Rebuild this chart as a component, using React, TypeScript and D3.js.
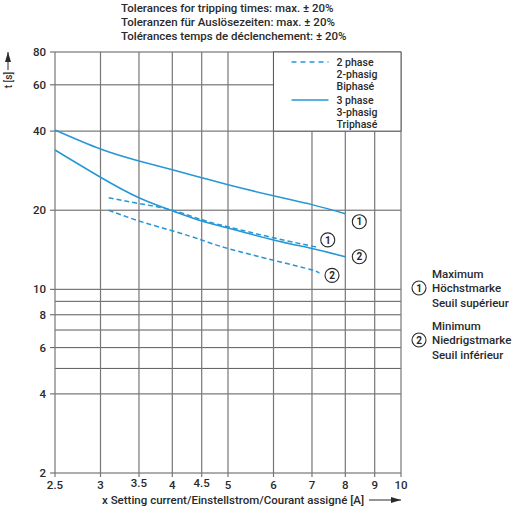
import { useEffect, useRef } from "react"
import * as d3 from "d3"

// x axis: setting current [A], y axis: tripping time t [s]
const currentGrid = [2.5, 3, 3.5, 4, 4.5, 5, 6, 7, 8, 9, 10]
const raisedTicks = [3.5, 4.5]
const timeGrid = [2, 4, 5, 6, 7, 8, 9, 10, 20, 40, 60, 80]
const timeLabels = [2, 4, 6, 8, 10, 20, 40, 60, 80]

// curves
const threePhaseMaxI = [2.5, 3, 3.5, 4, 4.5, 5, 6, 7, 8]
const threePhaseMaxT = [40.4, 34.2, 30.8, 28.5, 26.6, 25.0, 22.7, 21.0, 19.4]
const threePhaseMinI = [2.5, 3, 3.5, 4, 4.5, 5, 6, 7, 8]
const threePhaseMinT = [33.9, 26.7, 22.3, 19.9, 18.2, 17.1, 15.4, 14.3, 13.3]
const twoPhaseMaxI = [3.1, 3.5, 4, 4.5, 5, 6, 7, 7.05]
const twoPhaseMaxT = [22.3, 21.2, 20.0, 18.4, 17.3, 15.7, 14.6, 14.5]
const twoPhaseMinI = [3.1, 3.5, 4, 4.5, 5, 6, 7, 7.2]
const twoPhaseMinT = [20.0, 18.2, 16.7, 15.4, 14.3, 12.9, 11.85, 11.5]

const titleLines = [
  "Tolerances for tripping times: max. ± 20%",
  "Toleranzen für Auslösezeiten: max. ± 20%",
  "Tolérances temps de déclenchement: ± 20%",
]
const legendDashed = ["2 phase", "2-phasig", "Biphasé"]
const legendSolid = ["3 phase", "3-phasig", "Triphasé"]
const maxNote = ["Maximum", "Höchstmarke", "Seuil supérieur"]
const minNote = ["Minimum", "Niedrigstmarke", "Seuil inférieur"]
const xTitle = "x Setting current/Einstellstrom/Courant assigné [A]"
const yTitle = "t [s]"

const FONT = "Roboto, 'Liberation Sans', sans-serif"
const FS = 11.5
const FW = 500
const BLUE = "#2597d6"
const GRID = "#5a5a5a"
const VGRID = "#777"
const INK = "#2a2a2a"

export default function App() {
  const ref = useRef<SVGSVGElement>(null)

  useEffect(() => {
    const svg = d3.select(ref.current)
    svg.selectAll("*").remove()

    const x = d3.scaleLog().domain([2.5, 10]).range([55, 401])
    const y = d3.scaleLog().domain([2, 80]).range([473, 52])
    const g = svg.append("g")

    const label = (sel: d3.Selection<any, any, any, any>) =>
      sel.attr("font-size", FS).attr("font-family", FONT).attr("font-weight", FW).attr("fill", INK)

    // grid
    g.selectAll(".h").data(timeGrid).join("line")
      .attr("x1", d => timeLabels.includes(d) ? x(2.5) - 5 : x(2.5))
      .attr("x2", x(10))
      .attr("y1", d => y(d)).attr("y2", d => y(d))
      .attr("stroke", GRID).attr("stroke-width", 1)
    g.selectAll(".v").data(currentGrid).join("line")
      .attr("x1", d => x(d)).attr("x2", d => x(d))
      .attr("y1", y(80)).attr("y2", y(2) + 4)
      .attr("stroke", VGRID).attr("stroke-width", 1.2)

    // legend box covers the grid in the upper right
    g.append("rect")
      .attr("x", x(6)).attr("y", y(80))
      .attr("width", x(10) - x(6)).attr("height", y(40) - y(80))
      .attr("fill", "#fff").attr("stroke", GRID).attr("stroke-width", 1)

    // tick labels
    g.selectAll(".yl").data(timeLabels).join("text")
      .attr("x", 46).attr("y", d => y(d)).attr("dy", "0.35em")
      .attr("text-anchor", "end").call(label).text(d => d)
    g.selectAll(".xl").data(currentGrid).join("text")
      .attr("x", d => x(d)).attr("y", d => raisedTicks.includes(d) ? 487 : 489)
      .attr("text-anchor", "middle").call(label).text(d => d)

    // curves
    const line = d3.line<[number, number]>()
      .x(d => x(d[0])).y(d => y(d[1]))
      .curve(d3.curveNatural)
    const series = [
      { i: threePhaseMaxI, t: threePhaseMaxT, dash: null },
      { i: threePhaseMinI, t: threePhaseMinT, dash: null },
      { i: twoPhaseMaxI, t: twoPhaseMaxT, dash: "5,3" },
      { i: twoPhaseMinI, t: twoPhaseMinT, dash: "5,3" },
    ]
    series.forEach(s => {
      g.append("path")
        .datum(s.i.map((v, k) => [v, s.t[k]] as [number, number]))
        .attr("d", line)
        .attr("fill", "none").attr("stroke", BLUE).attr("stroke-width", 1.5)
        .attr("stroke-dasharray", s.dash)
    })

    // circled markers
    const marker = (cx: number, cy: number, txt: string) => {
      g.append("circle").attr("cx", cx).attr("cy", cy).attr("r", 7)
        .attr("fill", "#fff").attr("stroke", INK).attr("stroke-width", 1.1)
      g.append("text").attr("x", cx).attr("y", cy).attr("dy", "0.36em")
        .attr("text-anchor", "middle").attr("font-size", 10).attr("font-family", FONT)
        .attr("font-weight", "bold").attr("fill", INK).text(txt)
    }
    const last = (a: number[]) => a[a.length - 1]
    marker(x(last(threePhaseMaxI)) + 14, y(last(threePhaseMaxT)) + 8, "1")
    marker(x(last(twoPhaseMaxI)) + 14, y(last(twoPhaseMaxT)) - 7, "1")
    marker(x(last(threePhaseMinI)) + 14, y(last(threePhaseMinT)), "2")
    marker(x(last(twoPhaseMinI)) + 13, y(last(twoPhaseMinT)) + 2, "2")

    // legend
    const lx = x(6) + 18
    const legendRows = (lines: string[], top: number, dash: string | null) => {
      g.append("line").attr("x1", lx).attr("x2", lx + 37).attr("y1", top).attr("y2", top)
        .attr("stroke", BLUE).attr("stroke-width", 1.5).attr("stroke-dasharray", dash)
      lines.forEach((s, k) => {
        g.append("text").attr("x", lx + 45).attr("y", top + k * 12.3).attr("dy", "0.35em")
          .call(label).attr("font-size", 10.5).text(s)
      })
    }
    legendRows(legendDashed, 62, "5,4")
    legendRows(legendSolid, 100, null)

    // notes on the right
    const notes = (lines: string[], mid: number, txt: string) => {
      marker(419, mid, txt)
      lines.forEach((s, k) => {
        g.append("text").attr("x", 432).attr("y", mid + (k - 1) * 14.5).attr("dy", "0.35em")
          .call(label).text(s)
      })
    }
    notes(maxNote, 288, "1")
    notes(minNote, 340, "2")

    // title
    titleLines.forEach((s, k) => {
      g.append("text").attr("x", 121).attr("y", 8 + k * 14).attr("dy", "0.35em")
        .call(label).text(s)
    })

    // axis titles with arrows
    svg.append("defs").append("marker").attr("id", "arr")
      .attr("viewBox", "0 0 10 6").attr("refX", 10).attr("refY", 3)
      .attr("markerWidth", 10).attr("markerHeight", 6).attr("markerUnits", "userSpaceOnUse")
      .attr("orient", "auto")
      .append("path").attr("d", "M0,0L10,3L0,6Z").attr("fill", INK)
    g.append("text").attr("x", 102).attr("y", 500).attr("dy", "0.35em")
      .call(label).text(xTitle)
    g.append("line").attr("x1", 369).attr("x2", 401).attr("y1", 500).attr("y2", 500)
      .attr("stroke", INK).attr("stroke-width", 1).attr("marker-end", "url(#arr)")
    g.append("text").attr("transform", "translate(8,80) rotate(-90)").attr("dy", "0.35em")
      .attr("text-anchor", "middle").call(label).attr("font-size", 10).text(yTitle)
    g.append("line").attr("x1", 8).attr("x2", 8).attr("y1", 70).attr("y2", 52)
      .attr("stroke", INK).attr("stroke-width", 1).attr("marker-end", "url(#arr)")
  }, [])

  return (
    <svg ref={ref} width={515} height={515}
      style={{ position: "absolute", left: 0, top: 0, background: "#fff" }} />
  )
}
